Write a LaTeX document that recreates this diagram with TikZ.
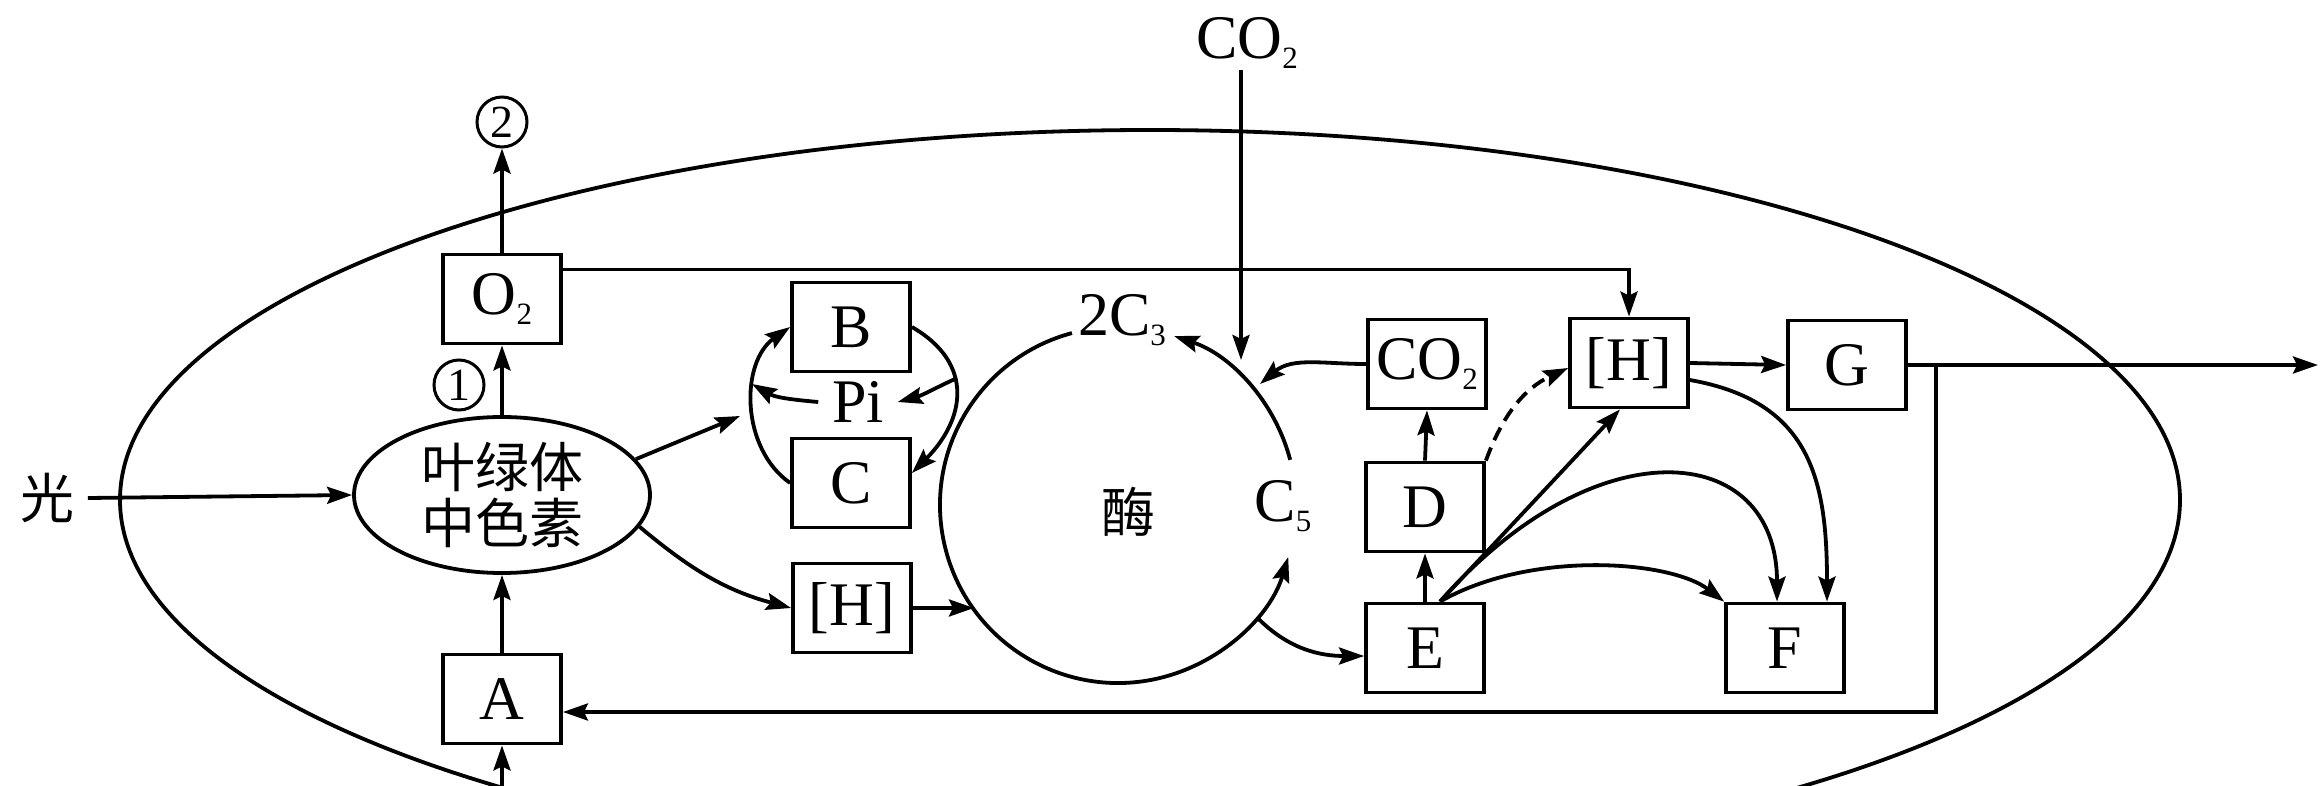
\documentclass[tikz,border=0pt]{standalone}
\usepackage{fontspec}
\setmainfont{Liberation Serif}
\newfontfamily\cjk{Noto Sans CJK SC}
\usetikzlibrary{shapes.geometric,arrows.meta,calc}
\newcommand\subs[1]{\raisebox{-0.15em}{\fontsize{31}{31}\selectfont #1}}
\begin{document}
\begin{tikzpicture}[x=1pt,y=-1pt,line width=3.8pt,
  bx/.style={draw, minimum width=118pt, minimum height=89pt, inner sep=0pt, font=\fontsize{62}{62}\selectfont},
  lbl/.style={inner sep=0pt, font=\fontsize{62}{62}\selectfont},
  cj/.style={inner sep=0pt, font=\cjk\fontsize{54}{56}\selectfont},
  arr/.style={-{Stealth[length=25pt,width=17pt,inset=4pt]}},
  num/.style={draw, circle, minimum size=50pt, inner sep=0pt, line width=3pt, font=\fontsize{46}{46}\selectfont},
]
\useasboundingbox (0,0) rectangle (2320,786);
\begin{scope}
  \clip (0,0) rectangle (2320,786);
  \draw (1150,500) ellipse [x radius=1030, y radius=370];
\end{scope}

% nodes
\node[bx] (O2) at (502,299) {O\subs{2}};
\node[num] (n2) at (502,122) {2};
\node[num] (n1) at (459,385) {1};
\node[draw, ellipse, minimum width=296pt, minimum height=156pt, inner sep=0pt, align=center, cj] (pig) at (502,495) {叶绿体\\中色素};
\node[cj, inner sep=12pt] (light) at (47,498) {光};
\node[bx] (A) at (502,699) {A};
\node[bx] (B) at (851,327) {B};
\node[lbl, inner sep=12pt] (Pi) at (858,402) {Pi};
\node[bx] (C) at (851,483) {C};
\node[bx] (HL) at (852,608) {[H]};
\node[lbl] (c3) at (1122,320) {2C\subs{3}};
\node[cj] (enz) at (1128,512) {酶};
\node[lbl] (c5) at (1283,506) {C\subs{5}};
\node[lbl] (co2t) at (1247,43) {CO\subs{2}};
\node[bx] (CO2b) at (1427,364) {CO\subs{2}};
\node[bx] (D) at (1425,507) {D};
\node[bx] (E) at (1425,648) {E};
\node[bx] (HR) at (1629,363) {[H]};
\node[bx] (G) at (1847,365) {G};
\node[bx] (F) at (1785,648) {F};

% coordinates
\coordinate (cc) at (1118,505);
\coordinate (below) at (502,786);
\coordinate (outR) at (2318,365);
\coordinate (j) at (1936,365);
\coordinate (Ain) at ([yshift=-13pt]A.east);
\coordinate (loopT) at (740,416);
\coordinate (piL) at (752,384);
\coordinate (brR) at (957,378);
\coordinate (co2in) at (1241,360);
\coordinate (cin) at (1260,384);
\coordinate (hin) at (974,608);

% connectors
\draw[arr] (O2.north) -- (n2.south);
\draw[arr] (pig.north) -- (O2.south);
\draw[arr] (A.north) -- (pig.south);
\draw[arr] (below) -- (A.south);
\draw[arr] (light.east) -- (pig.west);
\draw[arr] ([yshift=-17pt]O2.north east) -| (HR.north);
\draw[arr] (pig.15) -- (loopT);
\draw[arr] (pig.-13) to[out=-40,in=165] (HL.west);
\draw[arr] (C.west) to[out=145,in=215] (B.west);
\draw[arr] (Pi.west) to[out=175,in=-30] (piL);
\draw[arr] (B.east) to[out=-30,in=45,looseness=1.3] ([yshift=10pt]C.east);
\draw[arr] (brR) to[out=205,in=15] (Pi.east);
\draw[arr] (HL.east) -- (hin);
\draw[arr] ($(cc)+(14.7:178pt)$) arc[start angle=14.7,end angle=71.6,radius=178pt];
\draw[arr] ($(cc)+(105:178pt)$) arc[start angle=105,end angle=343,radius=178pt];
\draw[arr] (co2t.south -| co2in) -- (co2in);
\draw[arr] (CO2b.west) to[out=180,in=40] (cin);
\draw[arr] ($(cc)+(-39:180pt)$) to[out=-45,in=180] ([yshift=-8pt]E.west);
\draw[arr] (E.north) -- (D.south);
\draw[arr] (D.north) -- (CO2b.south);
\draw[arr,dash pattern=on 14pt off 8pt] (D.north east) to[out=70,in=205] ([yshift=-5pt]HR.west);
\draw[arr] ([xshift=15pt]E.north) -- ([xshift=-9pt]HR.south);
\draw[arr] ([xshift=15pt]E.north) .. controls (1595,425) and (1777,440) .. ([xshift=-8pt]F.north);
\draw[arr] ([xshift=15pt]E.north) .. controls (1530,550) and (1670,560) .. (F.north west);
\draw[arr] ([yshift=-17pt]HR.east) to[out=-10,in=90,looseness=1.2] ([xshift=42pt]F.north);
\draw[arr] (HR.east) -- (G.west);
\draw[arr] (G.east) -- (outR);
\draw[arr] (j) |- (Ain);
\end{tikzpicture}
\end{document}
